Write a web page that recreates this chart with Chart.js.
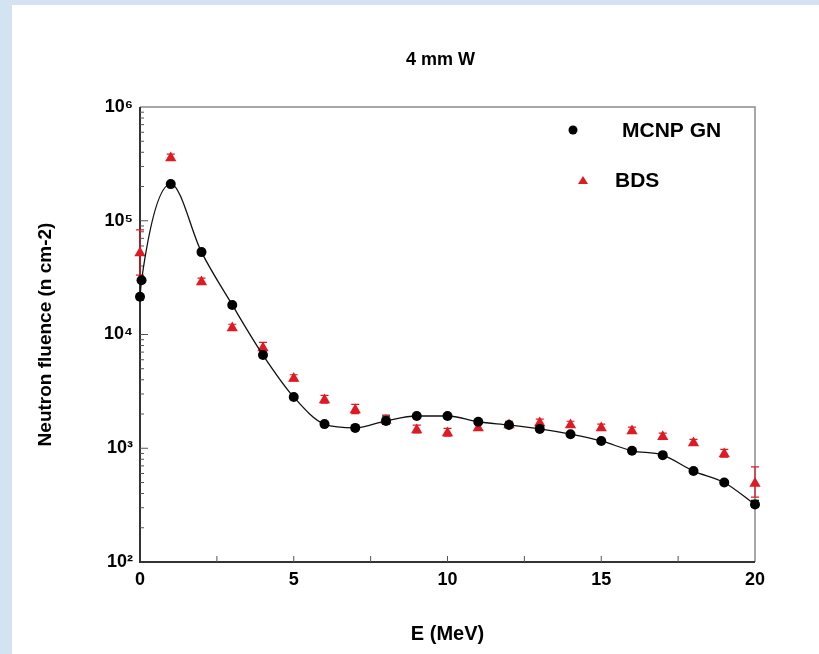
<!DOCTYPE html>
<html>
<head>
<meta charset="utf-8">
<script src="https://cdn.jsdelivr.net/npm/chart.js@4.4.1/dist/chart.umd.min.js"></script>
<style>
  html, body { margin: 0; padding: 0; }
  body { width: 819px; height: 654px; background: #d3e3f2; position: relative; overflow: hidden; }
  #wrap { position: absolute; left: 12px; top: 5px; width: 807px; height: 649px; background: #fff; }
</style>
</head>
<body>
<div id="wrap"><canvas id="myChart" width="807" height="649"></canvas></div>
<script>
// MCNP GN calculation (black dots + smooth line)
const energyMcnp = [0, 0.05, 1, 2, 3, 4, 5, 6, 7, 8, 9, 10, 11, 12, 13, 14, 15, 16, 17, 18, 19, 20];
const fluenceMcnp = [21500, 30000, 210000, 53000, 18200, 6600, 2820, 1630, 1510, 1740, 1920, 1920,
                     1710, 1600, 1480, 1330, 1160, 950, 870, 630, 500, 320];
const errMcnp = [0, 0, 0, 0, 0, 0, 0, 0, 0, 0.1, 0, 0, 0, 0, 0, 0, 0, 0, 0, 0, 0, 0.09];

// BDS measurement (red triangles with error bars)
const energyBds = [0, 1, 2, 3, 4, 5, 6, 7, 8, 9, 10, 11, 12, 13, 14, 15, 16, 17, 18, 19, 20];
const fluenceBds = [52000, 356000, 29000, 11400, 7600, 4100, 2650, 2170, 1750, 1450, 1360, 1510,
                    1600, 1670, 1600, 1510, 1420, 1260, 1110, 890, 490];
const errBds = [0.6, 0.08, 0.08, 0.08, 0.12, 0.08, 0.1, 0.12, 0.12, 0.1, 0.1, 0.08,
                0.08, 0.08, 0.08, 0.08, 0.08, 0.08, 0.08, 0.1, 0.4];

const xTicks = [0, 5, 10, 15, 20];
const yTicks = [100, 1000, 10000, 100000, 1000000];
const supers = {2: '²', 3: '³', 4: '⁴', 5: '⁵', 6: '⁶'};
const chartTitle = '4 mm W';

Chart.defaults.font.family = "'Liberation Sans', Arial, sans-serif";
Chart.defaults.font.weight = 'bold';
Chart.defaults.color = '#111';

const ctx = document.getElementById('myChart');

const frameTicks = {
    id: 'frameTicks',
    beforeDatasetsDraw(chart) {
        const {ctx, chartArea: a, scales: {x, y}} = chart;
        ctx.save();
        // top and right frame
        ctx.strokeStyle = '#8a8a8a';
        ctx.lineWidth = 1.5;
        ctx.beginPath();
        ctx.moveTo(a.left, a.top); ctx.lineTo(a.right, a.top); ctx.lineTo(a.right, a.bottom);
        ctx.stroke();
        // left and bottom axes
        ctx.strokeStyle = '#333';
        ctx.lineWidth = 2;
        ctx.beginPath();
        ctx.moveTo(a.left, a.top); ctx.lineTo(a.left, a.bottom); ctx.lineTo(a.right, a.bottom);
        ctx.stroke();
        // inward ticks
        ctx.lineWidth = 1;
        ctx.strokeStyle = '#555';
        ctx.beginPath();
        for (let d = 2; d < 6; d++) {
            for (let m = 1; m < 10; m++) {
                const py = y.getPixelForValue(m * Math.pow(10, d));
                const len = m === 1 ? 8 : 4;
                if (m > 1 || d > 2) { ctx.moveTo(a.left, py); ctx.lineTo(a.left + len, py); }
            }
        }
        for (let v = 2.5; v < 20; v += 2.5) {
            const px = x.getPixelForValue(v);
            ctx.moveTo(px, a.bottom); ctx.lineTo(px, a.bottom - 6);
        }
        ctx.stroke();
        ctx.restore();
    }
};

const errorBars = {
    id: 'errorBars',
    beforeDatasetsDraw(chart) {
        const {ctx, scales: {x, y}} = chart;
        const sets = [[energyBds, fluenceBds, errBds, '#e01a22'], [energyMcnp, fluenceMcnp, errMcnp, '#111']];
        ctx.save();
        ctx.lineWidth = 1.2;
        sets.forEach(([xs, vs, es, col]) => {
            ctx.strokeStyle = col;
            ctx.beginPath();
            xs.forEach((e, i) => {
                if (!es[i]) return;
                const px = x.getPixelForValue(e);
                const hi = y.getPixelForValue(vs[i] * (1 + es[i]));
                const lo = y.getPixelForValue(vs[i] * (1 - es[i] * 0.6));
                ctx.moveTo(px, hi); ctx.lineTo(px, lo);
                ctx.moveTo(px - 4, hi); ctx.lineTo(px + 4, hi);
                ctx.moveTo(px - 4, lo); ctx.lineTo(px + 4, lo);
            });
            ctx.stroke();
        });
        ctx.restore();
    }
};

const titleAndLegend = {
    id: 'titleAndLegend',
    afterDraw(chart) {
        const {ctx, chartArea: a} = chart;
        ctx.save();
        // title, centred a bit left of the plot centre like the original
        ctx.font = "bold 18px 'Liberation Sans', Arial, sans-serif";
        ctx.textAlign = 'center';
        ctx.textBaseline = 'middle';
        ctx.fillStyle = '#000';
        ctx.fillText(chartTitle, (a.left + a.right) / 2 - 7, a.top - 47);

        ctx.textAlign = 'left';
        ctx.font = "bold 21px 'Liberation Sans', Arial, sans-serif";
        ctx.beginPath();
        ctx.arc(a.right - 182, a.top + 23, 4.5, 0, Math.PI * 2);
        ctx.fill();
        ctx.fillText(chart.data.datasets[0].label, a.right - 133, a.top + 24);
        ctx.fillStyle = '#e01a22';
        ctx.beginPath();
        ctx.moveTo(a.right - 172, a.top + 69);
        ctx.lineTo(a.right - 167, a.top + 77);
        ctx.lineTo(a.right - 177, a.top + 77);
        ctx.closePath();
        ctx.fill();
        ctx.fillStyle = '#000';
        ctx.fillText(chart.data.datasets[1].label, a.right - 140, a.top + 74);
        ctx.restore();
    }
};

new Chart(ctx, {
    type: 'scatter',
    data: {
        datasets: [{
            label: 'MCNP GN',
            type: 'line',
            data: energyMcnp.map((e, i) => ({x: e, y: fluenceMcnp[i]})),
            borderColor: '#111',
            borderWidth: 1.3,
            backgroundColor: '#000',
            pointRadius: 5,
            pointBorderWidth: 0,
            cubicInterpolationMode: 'monotone',
            showLine: true,
            clip: false,
            order: 1
        }, {
            label: 'BDS',
            data: energyBds.map((e, i) => ({x: e, y: fluenceBds[i]})),
            pointStyle: 'triangle',
            pointRadius: 6.5,
            pointBorderWidth: 0,
            backgroundColor: '#e01a22',
            borderColor: '#e01a22',
            showLine: false,
            clip: false,
            order: 2
        }]
    },
    plugins: [frameTicks, errorBars, titleAndLegend],
    options: {
        responsive: false,
        animation: false,
        layout: {padding: {left: 0, right: 64, top: 102, bottom: 0}},
        plugins: {
            legend: {display: false},
            tooltip: {enabled: false},
            title: {display: false}
        },
        scales: {
            x: {
                type: 'linear',
                min: 0,
                max: 20,
                afterFit(scale) { scale.height = 92; },
                afterBuildTicks(scale) { scale.ticks = xTicks.map(v => ({value: v})); },
                grid: {display: false, drawTicks: false},
                border: {display: false},
                ticks: {padding: 7, font: {size: 18, weight: 'bold'}, color: '#000'},
                title: {
                    display: true,
                    text: 'E (MeV)',
                    font: {size: 20, weight: 'bold'},
                    color: '#000',
                    padding: {top: 0, bottom: 8}
                }
            },
            y: {
                type: 'logarithmic',
                min: 100,
                max: 1000000,
                afterFit(scale) { scale.width = 128; },
                afterBuildTicks(scale) { scale.ticks = yTicks.map(v => ({value: v})); },
                grid: {display: false, drawTicks: false},
                border: {display: false},
                ticks: {
                    padding: 7,
                    font: {size: 18, weight: 'bold'},
                    color: '#000',
                    callback: v => '10' + supers[Math.round(Math.log10(v))]
                },
                title: {
                    display: true,
                    text: 'Neutron fluence (n cm-2)',
                    font: {size: 19, weight: 'bold'},
                    color: '#000',
                    padding: {top: 22, bottom: 0}
                }
            }
        }
    }
});
</script>
</body>
</html>
